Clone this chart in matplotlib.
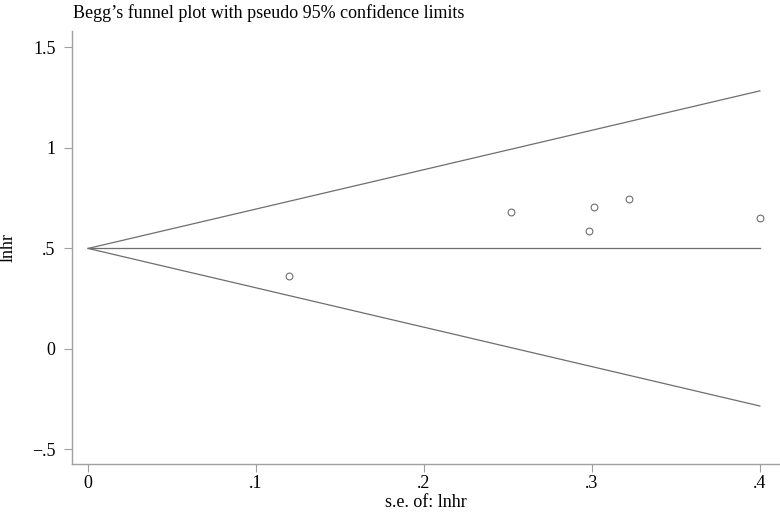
import matplotlib
matplotlib.use("Agg")
import matplotlib.pyplot as plt

# study estimates
se = [0.1195, 0.2518, 0.3011, 0.2985, 0.3221, 0.3999]
lnhr = [0.365, 0.680, 0.705, 0.586, 0.746, 0.653]

# pooled estimate and pseudo 95% limits (at se = 0 and se = max)
pooled = 0.5
funnel_se = [0.0, 0.4]
upper = [0.5, 1.284]
lower = [0.5, -0.284]

xticks = [0, 0.1, 0.2, 0.3, 0.4]
xlabels = ["0", ".1", ".2", ".3", ".4"]
yticks = [-0.5, 0, 0.5, 1, 1.5]
ylabels = ["\u2212.5", "0", ".5", "1", "1.5"]

plt.rcParams['font.family'] = ['Liberation Serif', 'DejaVu Serif']
fs = 13

fig = plt.figure(figsize=(7.8, 5.12), dpi=100)
ax = fig.add_axes([0.0927, 0.0932, 0.9073, 0.8463])

line_col = '#6e6e6e'
ax.plot(funnel_se, upper, color=line_col, lw=0.9)
ax.plot(funnel_se, lower, color=line_col, lw=0.9)
ax.plot(funnel_se, [pooled, pooled], color=line_col, lw=0.9)
ax.scatter(se, lnhr, s=24, facecolors='white', edgecolors='#6e6e6e', linewidths=0.8, zorder=3)

ax.set_xlim(-0.0094, 0.412)
ax.set_ylim(-0.574, 1.582)
ax.set_xticks(xticks)
ax.set_xticklabels(xlabels)
ax.set_yticks(yticks)
ax.set_yticklabels(ylabels)

for side in ['top', 'right']:
    ax.spines[side].set_visible(False)
for side in ['left', 'bottom']:
    ax.spines[side].set_color('#a0a0a0')
    ax.spines[side].set_linewidth(1.0)
ax.tick_params(direction='out', length=6, width=0.8, color='#a0a0a0',
               labelsize=fs, labelcolor='black', pad=6)
ax.tick_params(axis='x', pad=2)

ax.set_xlabel("s.e. of: lnhr", fontsize=fs, labelpad=1)
ax.set_ylabel("lnhr", fontsize=fs, labelpad=11)
fig.text(0.0935, 0.975, "Begg\u2019s funnel plot with pseudo 95% confidence limits",
         fontsize=fs, ha='left', va='center')

fig.savefig("out.png", dpi=100)
